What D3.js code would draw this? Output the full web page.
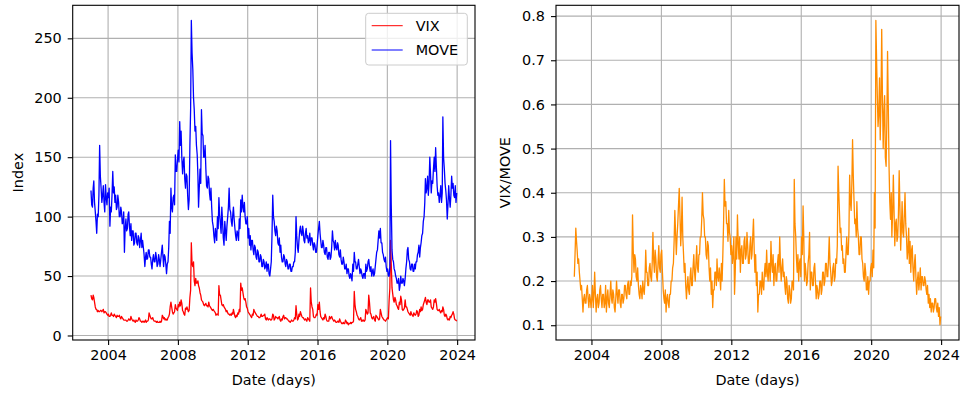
<!DOCTYPE html>
<html>
<head>
<meta charset="utf-8">
<script src="https://cdn.jsdelivr.net/npm/d3@7"></script>
<style>
  html, body { margin: 0; padding: 0; background: #fff; }
  svg { display: block; font-family: "DejaVu Sans", sans-serif; }
</style>
</head>
<body>
<svg id="chart" width="961" height="394"></svg>
<script>
// Twice-monthly readings (around the 8th and the 23rd), January 2003 - December 2023.
// One row per year, 24 values per row.
const firstYear = 2003;
const lastYear = 2023;
const readingDays = [8, 23];

const vix = [
  34,31, 30,34, 32,28, 24,22, 22,20, 21,20, 20,21, 21,20, 21,22, 19,20, 20,19, 18,17,   // 2003
  18,16, 16,17, 19,17, 17,16, 18,17, 16,15, 17,16, 16,17, 15,14, 16,15, 14,13, 13,13,   // 2004
  13,12, 12,13, 14,13, 13,16, 14,13, 12,13, 12,11, 13,12, 12,13, 15,14, 12,12, 11,12,   // 2005
  12,11, 12,13, 11,12, 12,13, 19,17, 15,14, 14,15, 13,12, 12,12, 11,12, 11,11, 11,12,   // 2006
  11,12, 17,16, 14,15, 13,14, 13,13, 15,16, 18,24, 28,24, 20,18, 19,20, 26,23, 22,21,   // 2007
  26,24, 28,25, 30,27, 21,20, 18,17, 23,22, 24,22, 20,21, 32,38, 78,60, 58,62, 46,42,   // 2008
  48,44, 44,46, 42,40, 36,34, 30,29, 28,26, 25,26, 27,25, 25,24, 28,25, 24,23, 22,21,   // 2009
  22,21, 20,19, 17,18, 18,17, 42,34, 34,30, 26,25, 26,24, 23,22, 20,21, 19,18, 18,17,   // 2010
  18,17, 19,18, 22,19, 16,15, 17,16, 19,18, 22,20, 44,38, 40,36, 32,30, 31,28, 24,23,   // 2011
  20,19, 18,17, 16,15, 18,17, 22,20, 19,18, 17,16, 16,15, 15,16, 18,16, 16,17, 17,18,   // 2012
  14,13, 15,14, 13,14, 14,13, 13,14, 18,17, 13,14, 16,15, 15,14, 15,16, 13,12, 14,13,   // 2013
  16,17, 14,15, 15,14, 14,13, 12,12, 11,12, 13,12, 12,13, 15,14, 25,18, 13,14, 18,16,   // 2014
  20,18, 16,15, 15,14, 13,14, 13,12, 15,14, 13,12, 40,28, 24,22, 16,15, 15,16, 18,17,   // 2015
  26,22, 28,20, 16,15, 14,13, 15,14, 18,16, 13,12, 12,12, 16,14, 15,16, 14,13, 12,13,   // 2016
  12,11, 11,12, 12,11, 14,12, 11,10, 10,11, 10,10, 13,12, 10,11,  9,10, 10,11, 10,11,   // 2017
  11,12, 37,26, 22,20, 17,16, 14,13, 14,15, 12,13, 12,13, 12,13, 22,20, 18,19, 34,28,   // 2018
  19,18, 15,14, 15,16, 13,12, 17,16, 15,14, 13,14, 22,19, 16,15, 14,13, 13,12, 13,14,   // 2019
  15,14, 30,40, 80,60, 40,35, 30,28, 32,30, 26,25, 23,22, 28,26, 33,30, 22,21, 22,23,   // 2020
  30,24, 24,22, 20,19, 18,17, 20,18, 17,16, 19,18, 17,18, 21,20, 16,17, 22,20, 24,21,   // 2021
  22,26, 28,30, 32,28, 26,30, 30,28, 28,30, 24,23, 22,24, 30,28, 31,27, 22,21, 21,22,   // 2022
  20,19, 21,20, 24,22, 17,16, 18,17, 14,13, 14,13, 16,15, 17,18, 20,18, 14,13, 13,12    // 2023
];

const move = [
  122,110, 108,124, 130,112, 104,96, 86,102, 100,118, 160,134, 124,112, 118,126, 112,104, 127,116, 110,120,   // 2003
  116,124, 92,108, 104,118, 138,120, 125,112, 118,106, 108,118, 112,100, 100,108, 104,94, 95,104, 70,90,      // 2004
  98,88, 90,102, 104,92, 84,94, 80,88, 88,76, 78,86, 86,78, 76,84, 82,74, 80,86, 74,80,                       // 2005
  74,68, 58,66, 70,64, 65,72, 72,66, 66,60, 56,64, 68,62, 62,70, 66,58, 60,68, 64,58,                         // 2006
  64,70, 76,66, 58,68, 66,60, 52,60, 62,74, 96,86, 124,108, 104,116, 118,110, 152,138, 138,148,               // 2007
  156,146, 180,160, 172,150, 136,146, 150,132, 124,136, 134,118, 106,114, 160,190, 265,238, 224,200, 190,172, // 2008
  176,160, 152,134, 108,124, 140,128, 190,170, 168,150, 150,160, 140,126, 124,134, 132,120, 114,124, 108,96,  // 2009
  92,84, 78,90, 86,80, 100,90, 116,102, 94,86, 108,96, 82,76, 96,88, 80,92, 100,108, 124,106,                 // 2010
  104,96, 92,102, 108,98, 90,84, 80,88, 86,80, 98,90, 114,104, 118,108, 104,112, 100,94, 94,100,              // 2011
  82,90, 76,84, 72,80, 80,72, 68,76, 74,66, 64,72, 70,62, 62,68, 66,58, 58,64, 62,56,                         // 2012
  58,62, 54,60, 60,52, 50,56, 62,84, 118,100, 96,88, 84,92, 88,78, 76,82, 70,76, 66,62,                       // 2013
  62,68, 66,60, 58,64, 62,56, 56,60, 60,54, 54,58, 58,62, 62,70, 100,84, 74,70, 80,88,                        // 2014
  92,86, 84,92, 88,80, 78,86, 90,82, 84,78, 80,86, 76,82, 82,76, 72,78, 76,70, 70,76,                         // 2015
  84,90, 96,86, 80,74, 74,80, 76,70, 68,74, 74,66, 64,70, 70,64, 66,74, 88,80, 78,72,                         // 2016
  80,74, 72,78, 76,68, 66,72, 64,60, 60,66, 62,56, 56,60, 52,56, 56,50, 48,52, 50,46,                         // 2017
  60,54, 70,62, 62,56, 56,60, 64,58, 52,56, 54,50, 48,52, 52,48, 60,54, 56,62, 64,58,                         // 2018
  54,58, 50,54, 56,50, 52,58, 64,70, 72,80, 88,82, 90,78, 78,70, 68,64, 62,66, 58,54,                         // 2019
  56,50, 50,58, 164,110, 72,64, 62,56, 54,50, 48,44, 44,48, 38,42, 50,44, 44,48, 46,42,                       // 2020
  48,56, 62,72, 74,64, 62,56, 55,60, 60,54, 54,60, 56,62, 62,68, 70,76, 66,74, 78,84,                         // 2021
  86,96, 100,112, 132,120, 124,134, 118,128, 150,136, 120,130, 128,140, 150,138, 158,142, 126,118, 120,112,   // 2022
  118,126, 112,120, 184,150, 140,128, 122,114, 98,110, 126,116, 108,118, 134,124, 128,118, 116,126, 112,120   // 2023
];

const ratio = [
  0.21,0.26, 0.32,0.29, 0.27,0.24, 0.25,0.22, 0.20,0.18, 0.19,0.16, 0.13,0.16, 0.17,0.15, 0.15,0.18, 0.19,0.16, 0.14,0.17, 0.16,0.14,  // 2003
  0.16,0.19, 0.14,0.17, 0.22,0.17, 0.13,0.16, 0.17,0.14, 0.15,0.18, 0.19,0.16, 0.14,0.17, 0.17,0.14, 0.15,0.19, 0.13,0.16, 0.18,0.15,  // 2004
  0.14,0.17, 0.20,0.16, 0.15,0.18, 0.17,0.14, 0.13,0.16, 0.20,0.17, 0.15,0.18, 0.18,0.15, 0.14,0.17, 0.17,0.15, 0.16,0.19, 0.19,0.17,  // 2005
  0.16,0.19, 0.20,0.17, 0.17,0.20, 0.19,0.21, 0.35,0.27, 0.22,0.26, 0.25,0.21, 0.20,0.23, 0.19,0.17, 0.16,0.19, 0.18,0.16, 0.20,0.18,  // 2006
  0.17,0.20, 0.27,0.22, 0.22,0.19, 0.19,0.23, 0.24,0.21, 0.20,0.24, 0.31,0.25, 0.22,0.27, 0.25,0.21, 0.20,0.24, 0.28,0.23, 0.22,0.26,  // 2007
  0.27,0.22, 0.18,0.16, 0.15,0.18, 0.13,0.16, 0.17,0.15, 0.14,0.17, 0.17,0.20, 0.20,0.23, 0.24,0.29, 0.36,0.31, 0.26,0.30, 0.33,0.37,  // 2008
  0.41,0.35, 0.28,0.32, 0.39,0.30, 0.26,0.22, 0.24,0.19, 0.16,0.19, 0.21,0.18, 0.17,0.21, 0.23,0.19, 0.19,0.23, 0.26,0.22, 0.20,0.24,  // 2009
  0.28,0.23, 0.22,0.26, 0.26,0.30, 0.30,0.34, 0.40,0.35, 0.34,0.30, 0.30,0.26, 0.25,0.29, 0.28,0.23, 0.20,0.23, 0.17,0.20, 0.14,0.18,  // 2010
  0.18,0.22, 0.22,0.19, 0.25,0.21, 0.20,0.23, 0.21,0.18, 0.24,0.20, 0.26,0.33, 0.43,0.37, 0.38,0.33, 0.33,0.29, 0.36,0.31, 0.30,0.26,  // 2011
  0.28,0.24, 0.26,0.30, 0.17,0.22, 0.30,0.25, 0.35,0.29, 0.25,0.30, 0.22,0.27, 0.28,0.24, 0.24,0.29, 0.30,0.25, 0.26,0.31, 0.28,0.24,  // 2012
  0.24,0.28, 0.30,0.25, 0.26,0.30, 0.34,0.27, 0.22,0.26, 0.19,0.22, 0.13,0.17, 0.17,0.20, 0.20,0.17, 0.22,0.19, 0.18,0.22, 0.24,0.21,  // 2013
  0.27,0.22, 0.20,0.24, 0.24,0.20, 0.29,0.24, 0.22,0.26, 0.19,0.23, 0.24,0.20, 0.20,0.24, 0.26,0.22, 0.30,0.24, 0.20,0.23, 0.25,0.21,  // 2014
  0.22,0.19, 0.17,0.21, 0.20,0.16, 0.15,0.19, 0.18,0.15, 0.16,0.20, 0.20,0.18, 0.43,0.33, 0.30,0.25, 0.22,0.26, 0.20,0.24, 0.25,0.21,  // 2015
  0.30,0.26, 0.37,0.30, 0.20,0.24, 0.22,0.19, 0.20,0.24, 0.26,0.31, 0.18,0.22, 0.22,0.19, 0.19,0.23, 0.24,0.20, 0.16,0.19, 0.18,0.16,  // 2016
  0.17,0.20, 0.20,0.17, 0.18,0.22, 0.22,0.19, 0.20,0.24, 0.24,0.21, 0.21,0.25, 0.30,0.24, 0.22,0.19, 0.20,0.23, 0.24,0.20, 0.21,0.25,  // 2017
  0.24,0.28, 0.46,0.40, 0.36,0.31, 0.32,0.27, 0.28,0.24, 0.25,0.22, 0.22,0.26, 0.30,0.26, 0.26,0.31, 0.44,0.38, 0.36,0.42, 0.52,0.44,  // 2018
  0.38,0.33, 0.34,0.30, 0.38,0.32, 0.30,0.26, 0.26,0.30, 0.30,0.25, 0.24,0.21, 0.20,0.24, 0.22,0.18, 0.18,0.21, 0.17,0.20, 0.20,0.23,  // 2019
  0.24,0.21, 0.27,0.23, 0.40,0.32, 0.79,0.70, 0.62,0.55, 0.58,0.66, 0.52,0.60, 0.77,0.62, 0.50,0.58, 0.62,0.48, 0.46,0.56, 0.72,0.60,  // 2020
  0.46,0.38, 0.34,0.40, 0.30,0.35, 0.44,0.36, 0.28,0.33, 0.34,0.29, 0.30,0.35, 0.45,0.37, 0.27,0.32, 0.38,0.31, 0.30,0.35, 0.40,0.33,  // 2021
  0.30,0.25, 0.27,0.32, 0.24,0.29, 0.22,0.27, 0.28,0.23, 0.20,0.24, 0.26,0.21, 0.17,0.20, 0.22,0.18, 0.20,0.23, 0.18,0.21, 0.21,0.19,  // 2022
  0.19,0.21, 0.20,0.18, 0.17,0.19, 0.15,0.17, 0.14,0.16, 0.13,0.15, 0.15,0.13, 0.14,0.16, 0.16,0.14, 0.13,0.15, 0.12,0.14, 0.101,0.12  // 2023
];

const indexTicks = [0, 50, 100, 150, 200, 250];
const ratioTicks = [0.1, 0.2, 0.3, 0.4, 0.5, 0.6, 0.7, 0.8];
const yearTicks = [2004, 2008, 2012, 2016, 2020, 2024];

const seriesNames = ["VIX", "MOVE"];
const seriesColors = ["#ff0000", "#0000ff"];
const ratioColor = "#ff8c00";

// reading dates: two per month
const dates = [];
for (let y = firstYear; y <= lastYear; y++) {
  for (let m = 0; m < 12; m++) {
    readingDays.forEach(day => dates.push(new Date(y, m, day)));
  }
}

const svg = d3.select("#chart");
const FONT = 14.4;
const GRID = "#b0b0b0";
const LINE_W = 1.3;

function padded(lo, hi) {
  const p = (hi - lo) * 0.05;
  return [lo - p, hi + p];
}

function panel(box, series, yDomain, yTicks, yFormat, yLabel) {
  const x = d3.scaleTime()
    .domain(padded(+d3.min(dates), +d3.max(dates)).map(t => new Date(t)))
    .range([box.left, box.right]);
  const y = d3.scaleLinear().domain(yDomain).range([box.bottom, box.top]);

  const g = svg.append("g");

  // grid
  const grid = g.append("g").attr("stroke", GRID).attr("stroke-width", 1.1);
  yearTicks.forEach(yr => {
    const xv = x(new Date(yr, 0, 1));
    grid.append("line").attr("x1", xv).attr("x2", xv)
      .attr("y1", box.top).attr("y2", box.bottom);
  });
  yTicks.forEach(v => {
    grid.append("line").attr("x1", box.left).attr("x2", box.right)
      .attr("y1", y(v)).attr("y2", y(v));
  });

  // data lines
  const clipId = "clip" + Math.round(box.left);
  svg.append("clipPath").attr("id", clipId).append("rect")
    .attr("x", box.left).attr("y", box.top)
    .attr("width", box.right - box.left).attr("height", box.bottom - box.top);

  series.forEach(s => {
    const line = d3.line().x((d, i) => x(dates[i])).y(d => y(d));
    g.append("path").datum(s.values)
      .attr("clip-path", `url(#${clipId})`)
      .attr("fill", "none").attr("stroke", s.color)
      .attr("stroke-width", LINE_W).attr("stroke-linejoin", "round")
      .attr("d", line);
  });

  // axes
  const xAxis = d3.axisBottom(x)
    .tickValues(yearTicks.map(yr => new Date(yr, 0, 1)))
    .tickFormat(d3.timeFormat("%Y"))
    .tickSize(5).tickPadding(5);
  const yAxis = d3.axisLeft(y)
    .tickValues(yTicks).tickFormat(yFormat)
    .tickSize(5).tickPadding(6);

  const ax = g.append("g").attr("transform", `translate(0,${box.bottom})`).call(xAxis);
  const ay = g.append("g").attr("transform", `translate(${box.left},0)`).call(yAxis);
  [ax, ay].forEach(a => {
    a.select(".domain").remove();
    a.selectAll("line").attr("stroke", "#000").attr("stroke-width", 1.1);
    a.selectAll("text").attr("fill", "#000")
      .style("font-size", FONT + "px").style("font-family", "DejaVu Sans");
  });

  // frame
  g.append("rect")
    .attr("x", box.left).attr("y", box.top)
    .attr("width", box.right - box.left).attr("height", box.bottom - box.top)
    .attr("fill", "none").attr("stroke", "#000").attr("stroke-width", 1.1);

  // labels
  g.append("text")
    .attr("x", (box.left + box.right) / 2).attr("y", 385)
    .attr("text-anchor", "middle").style("font-size", FONT + "px")
    .text("Date (days)");
  g.append("text")
    .attr("transform", `translate(${box.yLabelX},${(box.top + box.bottom) / 2}) rotate(-90)`)
    .attr("text-anchor", "middle").style("font-size", FONT + "px")
    .text(yLabel);

  return { x, y, g };
}

// left panel: VIX and MOVE
const allIndex = vix.concat(move);
const left = panel(
  { left: 72.7, right: 475, top: 5.3, bottom: 340, yLabelX: 23 },
  [
    { values: vix, color: seriesColors[0] },
    { values: move, color: seriesColors[1] }
  ],
  padded(d3.min(allIndex), d3.max(allIndex)),
  indexTicks, d3.format("d"), "Index"
);

// legend
const leg = left.g.append("g");
leg.append("rect")
  .attr("x", 365.7).attr("y", 13.3).attr("width", 101.6).attr("height", 51.7)
  .attr("rx", 3).attr("fill", "#fff").attr("fill-opacity", 0.8)
  .attr("stroke", "#cccccc").attr("stroke-width", 1);
seriesNames.forEach((name, i) => {
  const yy = 25.7 + i * 24.3;
  leg.append("line").attr("x1", 371.7).attr("x2", 402.7)
    .attr("y1", yy).attr("y2", yy)
    .attr("stroke", seriesColors[i]).attr("stroke-width", 1);
  leg.append("text").attr("x", 415.7).attr("y", yy + 5.2)
    .style("font-size", FONT + "px").text(name);
});

// right panel: VIX/MOVE
panel(
  { left: 556, right: 959, top: 5.3, bottom: 340, yLabelX: 510 },
  [{ values: ratio, color: ratioColor }],
  padded(d3.min(ratio), d3.max(ratio)),
  ratioTicks, d3.format(".1f"), "VIX/MOVE"
);
</script>
</body>
</html>
